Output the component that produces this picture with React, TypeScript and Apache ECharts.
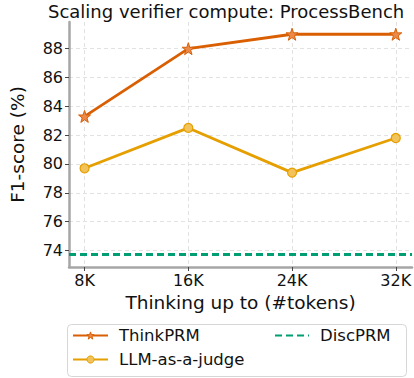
import React, { useEffect, useRef } from "react";
import * as echarts from "echarts";

const xValues = [8, 16, 24, 32];
const xTickLabels = ["8K", "16K", "24K", "32K"];
const yTicks = [74, 76, 78, 80, 82, 84, 86, 88];
const thinkPRM = [83.3, 88.0, 89.0, 89.0];
const llmJudge = [79.7, 82.5, 79.4, 81.8];
const discPRM = 73.7;

const STAR =
  "path://M50,0 L61.8,35.1 L97.6,34.5 L69.1,56.9 L79.4,90.5 L50,70 L20.6,90.5 L30.9,56.9 L2.4,34.5 L38.2,35.1 Z";

const FONT = "DejaVu Sans";

export default function App() {
  const ref = useRef<HTMLDivElement>(null);
  useEffect(() => {
    if (!ref.current) return;
    const chart = echarts.init(ref.current, undefined, { renderer: "svg" });
    const axisCommon = {
      axisLine: { show: true, lineStyle: { color: "#a6a6a6", width: 2.5 } },
      axisTick: { show: true, length: 4, lineStyle: { color: "#444", width: 1 } },
      splitLine: { show: true, lineStyle: { color: "#e2e2e2", type: [4, 3], width: 1 } },
      nameTextStyle: { fontFamily: FONT, fontSize: 18.5, color: "#111" },
    };
    const legendText = { fontFamily: FONT, fontSize: 16.5, color: "#111", padding: [0, 0, 0, 6] };
    const legendBase = { orient: "vertical", padding: 0, itemWidth: 35, textStyle: legendText };
    chart.setOption({
      animation: false,
      textStyle: { fontFamily: FONT },
      title: {
        text: "Scaling verifier compute: ProcessBench",
        left: 46,
        top: 0,
        padding: [2, 2, 2, 2],
        textStyle: { fontFamily: FONT, fontSize: 18, fontWeight: "normal", color: "#111" },
      },
      grid: { left: 52, right: 2, top: 22, bottom: 111, containLabel: false },
      xAxis: {
        type: "value",
        min: 6.8,
        max: 33.25,
        name: "Thinking up to (#tokens)",
        nameLocation: "middle",
        nameGap: 24,
        ...axisCommon,
        axisTick: { ...axisCommon.axisTick, customValues: xValues },
        axisLabel: {
          customValues: xValues,
          fontFamily: FONT,
          fontSize: 16,
          color: "#111",
          margin: 5,
          formatter: (v: number) => xTickLabels[xValues.indexOf(v)] ?? "",
        },
      },
      yAxis: {
        type: "value",
        min: 72.85,
        max: 89.85,
        name: "F1-score (%)",
        nameLocation: "middle",
        nameGap: 42,
        ...axisCommon,
        axisTick: { ...axisCommon.axisTick, customValues: yTicks },
        axisLabel: {
          customValues: yTicks,
          fontFamily: FONT,
          fontSize: 16,
          color: "#111",
          margin: 6,
        },
      },
      legend: [
        {
          ...legendBase,
          data: [{ name: "ThinkPRM", itemStyle: { borderWidth: 1 } }],
          left: 72,
          top: 327,
          itemHeight: 9,
        },
        {
          ...legendBase,
          data: [{ name: "LLM-as-a-judge", itemStyle: { borderWidth: 1 } }],
          left: 72,
          top: 351,
          itemHeight: 9,
        },
        {
          ...legendBase,
          data: [{ name: "DiscPRM", itemStyle: { opacity: 0 } }],
          left: 274,
          top: 327,
          itemWidth: 34,
          itemHeight: 12,
        },
      ],
      graphic: [
        {
          type: "rect",
          left: 67,
          top: 324,
          z: -1,
          shape: { width: 339, height: 52, r: 4 },
          style: { fill: "#fff", stroke: "#d6d6d6", lineWidth: 1 },
        },
      ],
      series: [
        {
          name: "ThinkPRM",
          type: "line",
          data: xValues.map((x, i) => [x, thinkPRM[i]]),
          symbol: STAR,
          symbolSize: 12,
          lineStyle: { color: "#d95f02", width: 2.8 },
          itemStyle: { color: "#ec8a4a", borderColor: "#d95f02", borderWidth: 1 },
          z: 3,
        },
        {
          name: "LLM-as-a-judge",
          type: "line",
          data: xValues.map((x, i) => [x, llmJudge[i]]),
          symbol: "circle",
          symbolSize: 9,
          lineStyle: { color: "#e69f00", width: 2.8 },
          itemStyle: { color: "#f2c35a", borderColor: "#e69f00", borderWidth: 1.2 },
          z: 2,
        },
        {
          name: "DiscPRM",
          type: "line",
          data: [],
          symbol: "none",
          color: "#009e73",
          lineStyle: { color: "#009e73", width: 2.8, type: [7, 4] },
          markLine: {
            silent: true,
            symbol: "none",
            label: { show: false },
            lineStyle: { color: "#009e73", width: 2.8, type: [7, 4] },
            data: [{ yAxis: discPRM }],
          },
        },
      ],
    });
    return () => chart.dispose();
  }, []);
  return (
    <div
      ref={ref}
      style={{ position: "fixed", left: 0, top: 0, width: 414, height: 378, background: "#fff" }}
    />
  );
}
